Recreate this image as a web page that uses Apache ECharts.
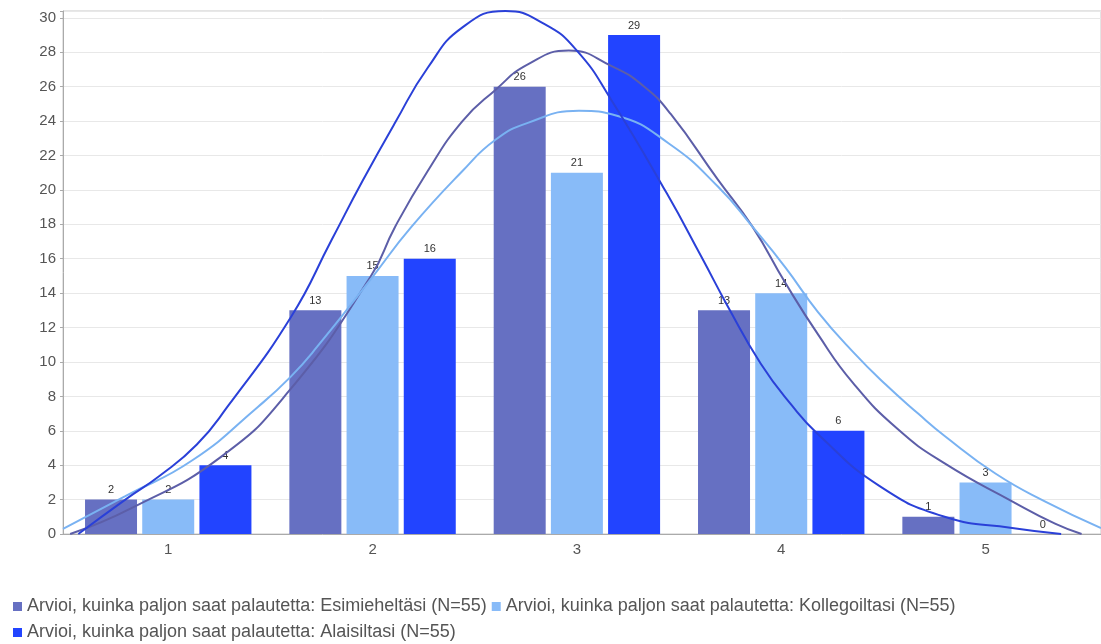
<!DOCTYPE html>
<html>
<head>
<meta charset="utf-8">
<script src="https://cdn.jsdelivr.net/npm/echarts@6/dist/echarts.min.js"></script>
<style>
  html, body { margin: 0; padding: 0; background: #ffffff; }
  #chart { width: 1101px; height: 644px; }
</style>
</head>
<body>
<div id="chart"></div>
<script>
// Answer values 1–5 and the number of answers for each source of feedback
const categories = [1, 2, 3, 4, 5];
const esimieheltasi = [2, 13, 26, 13, 1];
const kollegoiltasi = [2, 15, 21, 14, 3];
const alaisiltasi = [4, 16, 29, 6, 0];

// Fitted distribution curves, [answer value, count]
const curveEsimieheltasi = [
  [0.52, 0], [0.82, 1.5], [1.26, 4.5], [1.59, 8.3], [1.99, 14.95], [2.11, 17.85],
  [2.27, 21.1], [2.44, 24.0], [2.6, 25.8], [2.76, 27.3], [2.96, 28.1], [3.17, 27.2],
  [3.33, 26.0], [3.46, 24.4], [3.69, 20.6], [3.86, 17.85], [4.02, 14.6], [4.18, 11.6],
  [4.35, 8.8], [4.57, 6.1], [4.8, 4.1], [5.13, 1.9], [5.34, 0.6], [5.47, 0]
];
const curveKollegoiltasi = [
  [0.485, 0.3], [0.79, 2.2], [1.12, 4.3], [1.44, 7.4], [1.6, 9.15], [1.73, 10.9],
  [2.0, 14.95], [2.19, 17.85], [2.44, 21.1], [2.6, 22.9], [2.76, 23.9], [3.01, 24.6],
  [3.2, 24.3], [3.45, 22.7], [3.69, 20.2], [3.86, 17.85], [4.02, 15.5], [4.18, 12.9],
  [4.35, 10.6], [4.51, 8.7], [4.67, 7.0], [4.8, 5.7], [5.05, 3.5], [5.29, 1.9],
  [5.565, 0.35]
];
const curveAlaisiltasi = [
  [0.56, 0], [0.79, 2.0], [0.96, 3.4], [1.14, 5.2], [1.29, 7.4], [1.6, 12.6], [1.8, 17.1],
  [1.95, 20.5], [2.11, 23.9], [2.27, 27.1], [2.44, 29.45], [2.65, 30.4], [2.84, 29.65],
  [3.0, 28.1], [3.17, 25.2], [3.44, 19.8], [3.61, 16.1], [3.74, 13.2], [3.9, 9.9],
  [4.05, 7.5], [4.18, 5.8], [4.48, 2.8], [4.8, 1.0], [5.13, 0.35], [5.37, 0]
];

const names = [
  'Arvioi, kuinka paljon saat palautetta: Esimieheltäsi (N=55)',
  'Arvioi, kuinka paljon saat palautetta: Kollegoiltasi (N=55)',
  'Arvioi, kuinka paljon saat palautetta: Alaisiltasi (N=55)'
];
const barColors = ['#6670c2', '#88bbf8', '#2244ff'];
const curveColors = ['#5c5ea8', '#79b2f2', '#2a40d8'];
const barValues = [esimieheltasi, kollegoiltasi, alaisiltasi];
const curves = [curveEsimieheltasi, curveKollegoiltasi, curveAlaisiltasi];

const font = '"Liberation Sans", Arial, sans-serif';

const barSeries = barValues.map((vals, i) => ({
  name: names[i],
  type: 'bar',
  data: vals.map((v, j) => [categories[j], v]),
  barWidth: 52,
  barGap: '10%',
  itemStyle: { color: barColors[i] },
  label: {
    show: true,
    position: 'top',
    distance: 4,
    fontSize: 11,
    fontFamily: font,
    color: '#333',
    formatter: p => p.value[1]
  },
  z: 2
}));

const lineSeries = curves.map((pts, i) => ({
  name: names[i],
  type: 'line',
  data: pts,
  smooth: 0.5,
  showSymbol: false,
  symbol: 'none',
  lineStyle: { color: curveColors[i], width: 2 },
  itemStyle: { color: barColors[i] },
  z: 3,
  silent: true
}));

const chart = echarts.init(document.getElementById('chart'), null, { renderer: 'canvas' });
chart.setOption({
  animation: false,
  backgroundColor: '#ffffff',
  textStyle: { fontFamily: font },
  grid: {
    left: 63, right: 0, top: 11, bottom: 110,
    show: true, borderColor: '#c8c8c8', borderWidth: 1,
    backgroundColor: 'transparent'
  },
  legend: {
    data: names,
    left: 8,
    top: 591,
    itemWidth: 9,
    itemHeight: 9,
    itemGap: 5,
    icon: 'rect',
    textStyle: { fontSize: 18, color: '#555', fontFamily: font, lineHeight: 21 }
  },
  xAxis: {
    type: 'value',
    min: 0.485,
    max: 5.565,
    axisLine: { show: true, lineStyle: { color: '#aaaaaa' } },
    axisTick: { show: false },
    splitLine: { show: false },
    axisLabel: {
      customValues: categories,
      fontSize: 15,
      color: '#555',
      fontFamily: font,
      margin: 8
    }
  },
  yAxis: {
    type: 'value',
    min: 0,
    max: 30.4,
    interval: 2,
    axisLine: { show: true, lineStyle: { color: '#aaaaaa' } },
    axisTick: { show: true, length: 3, lineStyle: { color: '#aaaaaa' } },
    splitLine: { show: true, lineStyle: { color: '#e8e8e8' } },
    axisLabel: {
      fontSize: 15,
      color: '#555',
      fontFamily: font,
      margin: 7,
      formatter: v => (Math.abs(v % 2) < 1e-9 ? String(v) : '')
    }
  },
  series: [...barSeries, ...lineSeries]
});
</script>
</body>
</html>
